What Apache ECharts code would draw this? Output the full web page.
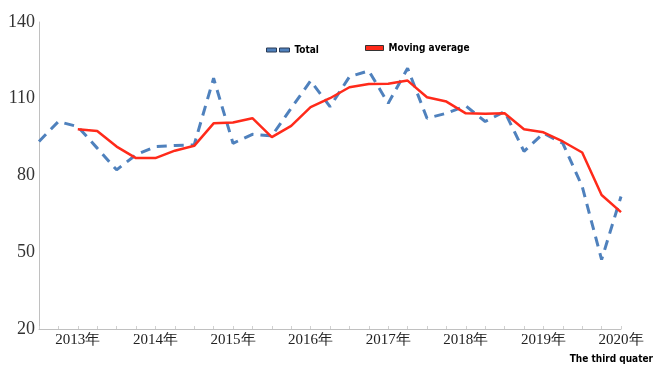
<!DOCTYPE html>
<html><head><meta charset="utf-8">
<script src="https://cdn.jsdelivr.net/npm/echarts@6/dist/echarts.min.js"></script>
<style>html,body{margin:0;padding:0;background:#fff}#c{width:658px;height:373px}</style>
</head><body><div id="c"></div>
<script>
const quarters = ['2013Q1','2013Q2','2013Q3','2013Q4','2014Q1','2014Q2','2014Q3','2014Q4',
  '2015Q1','2015Q2','2015Q3','2015Q4','2016Q1','2016Q2','2016Q3','2016Q4',
  '2017Q1','2017Q2','2017Q3','2017Q4','2018Q1','2018Q2','2018Q3','2018Q4',
  '2019Q1','2019Q2','2019Q3','2019Q4','2020Q1','2020Q2','2020Q3'];
const total = [93.3,101.1,99.1,90.7,82.2,88.1,91.3,91.7,92.0,118.0,92.6,96.1,95.5,106.3,117.0,106.9,
  118.6,120.9,108.2,121.9,102.4,104.3,107.2,101.1,105.0,89.4,96.5,92.6,75.7,47.1,71.8];
const movingAvg = [null,null,98.1,97.4,91.3,86.8,86.8,89.7,91.6,100.4,100.7,102.4,95.0,99.4,106.7,110.2,
  114.5,115.8,115.9,117.1,110.6,108.9,104.3,104.1,104.3,98.1,96.9,93.3,89.0,72.4,65.7];
const yTicks = [20,50,80,110,140];
const note = 'The third quater';

const boldFont = "'DejaVu Sans Condensed','Liberation Sans Narrow','Liberation Sans'";
const chart = echarts.init(document.getElementById('c'));
chart.setOption({
  animation:false,
  grid:{left:39,right:37,top:22,bottom:44},
  legend:[
    {left:261,top:40,itemWidth:23,itemHeight:5,itemGap:9,
     data:[{name:'Total',icon:'path://M0,0h10v4h-10z M13,0h10v4h-10z',
       itemStyle:{color:'#4f81bd',borderColor:'#2a3b55',borderWidth:1}}],
     textStyle:{fontFamily:boldFont,fontWeight:'bold',fontSize:10,color:'#000'}},
    {left:360,top:38,itemWidth:18,itemHeight:5,itemGap:8,
     data:[{name:'Moving average',icon:'rect',
       itemStyle:{color:'#ff2a1a',borderColor:'#333',borderWidth:1}}],
     textStyle:{fontFamily:boldFont,fontWeight:'bold',fontSize:10,color:'#000'}}
  ],
  xAxis:{type:'category',data:quarters,boundaryGap:false,
    axisLine:{lineStyle:{color:'#c0c0c0',width:1}},
    axisTick:{show:true,inside:true,length:3,interval:0,lineStyle:{color:'#d0d0d0'}},
    axisLabel:{interval:0,margin:4,color:'#222',fontFamily:'Liberation Serif',fontSize:15,
      formatter:v=>v.endsWith('Q3')?v.slice(0,4)+'年':''}
  },
  yAxis:{type:'value',min:20,max:140,
    axisLine:{show:true,lineStyle:{color:'#c0c0c0'}},
    axisTick:{show:false},
    splitLine:{show:false},
    axisLabel:{customValues:yTicks,margin:4,color:'#333',fontFamily:'Liberation Serif',fontSize:18}
  },
  graphic:[{type:'text',right:5,top:354,style:{text:note,fontFamily:boldFont,fontWeight:'bold',fontSize:10,fill:'#000'}}],
  series:[
    {name:'Total',type:'line',data:total,symbol:'none',
      lineStyle:{color:'#4f81bd',width:3,type:[10,7]},itemStyle:{color:'#4f81bd'}},
    {name:'Moving average',type:'line',data:movingAvg,symbol:'none',
      lineStyle:{color:'#ff2a1a',width:2.5},itemStyle:{color:'#ff2a1a'}}
  ]
});
</script></body></html>
